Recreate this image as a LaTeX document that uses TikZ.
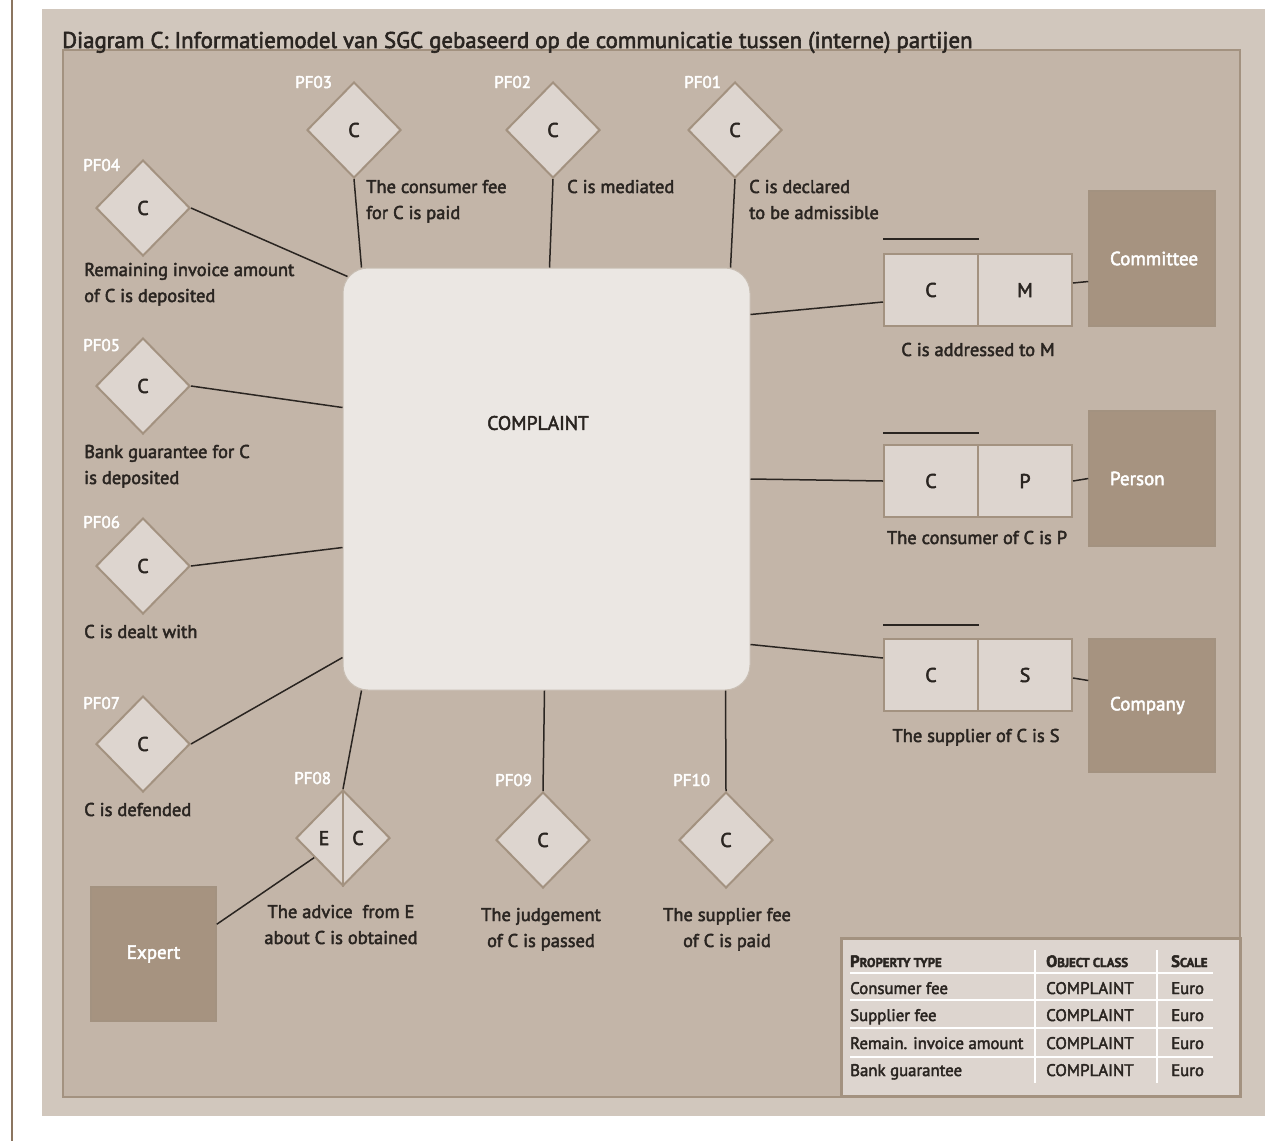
\documentclass[tikz,border=0pt]{standalone}
\usepackage{fontspec}
\setmainfont{PT Sans}[FakeBold=2.5]
\usetikzlibrary{shapes.geometric,calc}
\definecolor{outerpanel}{HTML}{D1C7BD}
\definecolor{framefill}{HTML}{C3B5A8}
\definecolor{framedraw}{HTML}{A39280}
\definecolor{lightfill}{HTML}{DDD5CF}
\definecolor{cpfill}{HTML}{EBE7E3}
\definecolor{entfill}{HTML}{A69380}
\definecolor{txt}{HTML}{2A2521}
\definecolor{leftline}{HTML}{8B7560}
\tikzset{
  dia/.style={diamond, draw=framedraw, fill=lightfill, line width=2, minimum width=94, minimum height=96, inner sep=0, font=\fontsize{20}{20}\selectfont, text=txt},
  pflbl/.style={anchor=base west, inner sep=0, text=white, font=\fontsize{17}{17}\selectfont},
  lbl/.style={anchor=base west, inner sep=0, align=left, text=txt, font=\fontsize{18.5}{26}\selectfont},
  clbl/.style={anchor=base, inner sep=0, align=center, text=txt, font=\fontsize{18.5}{26}\selectfont},
  cell/.style={draw=framedraw, fill=lightfill, line width=2, minimum width=94, minimum height=72, inner sep=0, text=txt, font=\fontsize{20}{20}\selectfont},
  ent/.style={draw=framedraw, fill=entfill, line width=1.5, minimum width=126, inner sep=0, text=white, font=\fontsize{19}{19}\selectfont},
  entl/.style={ent, text width=84, inner xsep=21, align=left},
  conn/.style={draw=txt, line width=1.5},
  over/.style={draw=txt, line width=1.5},
  tcell/.style={anchor=base west, inner sep=0, text=txt, font=\fontsize{16.8}{16.8}\selectfont},
  thead/.style={anchor=base west, inner sep=0, text=txt, font=\fontsize{16.5}{16.5}\selectfont\bfseries},
  sep/.style={draw=white, line width=2.5}
}
\newcommand{\smc}[1]{{\fontsize{12.8}{12.8}\selectfont #1}}
\begin{document}
\begin{tikzpicture}[x=1pt,y=-1pt]
\useasboundingbox (0,0) rectangle (1277,1141);
% background
\draw[leftline, line width=1.5] (12,0) -- (12,1141);
\fill[outerpanel] (42,9) rectangle (1265,1116);
\draw[framedraw, fill=framefill, line width=2.5] (63,50) rectangle (1240,1097);
\node[anchor=base west, inner sep=0, text=txt, font=\fontsize{22.8}{22.8}\selectfont] (title) at (62,48) {Diagram C: Informatiemodel van SGC gebaseerd op de communicatie tussen (interne) partijen};

% complaint
\node[draw=framedraw!60, fill=cpfill, rounded corners=25, minimum width=407, minimum height=422, line width=1] (cp) at (546.5,479) {};
\node[inner sep=0, text=txt, font=\fontsize{19.5}{19.5}\selectfont] (cplbl) at (538,423) {COMPLAINT};

% diamonds
\node[dia] (pf03) at (354,130) {C};
\node[dia] (pf02) at (553,130) {C};
\node[dia] (pf01) at (735,130) {C};
\node[dia] (pf04) at (143,208) {C};
\node[dia] (pf05) at (143,386) {C};
\node[dia] (pf06) at (143,566) {C};
\node[dia] (pf07) at (143,744) {C};
\node[dia] (pf08) at (343,838) {};
\node[dia] (pf09) at (543,840) {C};
\node[dia] (pf10) at (726,840) {C};
\draw[framedraw, line width=2] (pf08.north) -- (pf08.south);
\node[inner sep=0, text=txt, font=\fontsize{20}{20}\selectfont] (pf08e) at (324,838) {E};
\node[inner sep=0, text=txt, font=\fontsize{20}{20}\selectfont] (pf08c) at (358,838) {C};

% PF labels
\node[pflbl] (l03) at (295,88) {PF03};
\node[pflbl] (l02) at (494,88) {PF02};
\node[pflbl] (l01) at (684,88) {PF01};
\node[pflbl] (l04) at (83,171) {PF04};
\node[pflbl] (l05) at (83,351) {PF05};
\node[pflbl] (l06) at (83,528) {PF06};
\node[pflbl] (l07) at (83,709) {PF07};
\node[pflbl] (l08) at (294,784) {PF08};
\node[pflbl] (l09) at (495,786) {PF09};
\node[pflbl] (l10) at (673,786) {PF10};

% fact labels (anchor = baseline of last line)
\node[lbl] (t03) at (366,219) {The consumer fee\\for C is paid};
\node[lbl] (t02) at (567,193) {C is mediated};
\node[lbl] (t01) at (749,219) {C is declared\\to be admissible};
\node[lbl] (t04) at (84,302) {Remaining invoice amount\\of C is deposited};
\node[lbl] (t05) at (84,484) {Bank guarantee for C\\is deposited};
\node[lbl] (t06) at (84,638) {C is dealt with};
\node[lbl] (t07) at (84,816) {C is defended};
\node[clbl] (t08) at (341,944) {The advice\ \ from E\\about C is obtained};
\node[clbl] (t09) at (541,947) {The judgement\\of C is passed};
\node[clbl] (t10) at (727,947) {The supplier fee\\of C is paid};

% relations
\node[cell] (rmc) at (931,290) {C};
\node[cell] (rmm) at (1025,290) {M};
\node[cell] (rpc) at (931,481) {C};
\node[cell] (rpp) at (1025,481) {P};
\node[cell] (rsc) at (931,675) {C};
\node[cell] (rss) at (1025,675) {S};
\draw[over] ($(rmc.north west)+(0,-14)$) -- ($(rmc.north east)+(0,-14)$);
\draw[over] ($(rpc.north west)+(0,-11)$) -- ($(rpc.north east)+(0,-11)$);
\draw[over] ($(rsc.north west)+(0,-13)$) -- ($(rsc.north east)+(0,-13)$);
\node[clbl] (tm) at (978,356) {C is addressed to M};
\node[clbl] (tp) at (977,544) {The consumer of C is P};
\node[clbl] (ts) at (976,742) {The supplier of C is S};

% entities
\node[entl, minimum height=135] (committee) at (1152,258.5) {Committee};
\node[entl, minimum height=135] (person) at (1152,478.5) {Person};
\node[entl, minimum height=133] (company) at (1152,705.5) {Company};
\node[ent, minimum width=125, minimum height=134] (expert) at (153.5,954) {Expert};

% connectors
\draw[conn] (pf03.south) -- ($(cp.north west)+(19,0)$);
\draw[conn] (pf02.south) -- ($(cp.north west)+(207,0)$);
\draw[conn] (pf01.south) -- ($(cp.north west)+(388,0)$);
\draw[conn] (pf04.east) -- ($(cp.north west)+(5,9)$);
\draw[conn] (pf05.east) -- ($(cp.north west)+(0,140)$);
\draw[conn] (pf06.east) -- ($(cp.north west)+(0,280)$);
\draw[conn] (pf07.east) -- ($(cp.north west)+(0,390)$);
\draw[conn] (pf08.north) -- ($(cp.south west)+(19,0)$);
\draw[conn] (pf09.north) -- ($(cp.south west)+(202,0)$);
\draw[conn] (pf10.north) -- ($(cp.south west)+(383,0)$);
\draw[conn] ($(expert.north east)+(0,38)$) -- ($(pf08.west)!0.4!(pf08.south)$);
\draw[conn] ($(cp.north east)+(0,47)$) -- ($(rmc.west)+(0,12)$);
\draw[conn] ($(rmm.east)+(0,-7)$) -- ($(committee.west)+(0,23)$);
\draw[conn] (cp.east) -- (rpc.west);
\draw[conn] (rpp.east) -- (person.west);
\draw[conn] ($(cp.north east)+(0,377)$) -- ($(rsc.west)+(0,-17)$);
\draw[conn] ($(rss.east)+(0,3)$) -- ($(company.west)+(0,-25)$);

% table
\node[draw=framedraw, fill=lightfill, line width=3, minimum width=399, minimum height=158, inner sep=0, anchor=north west] (tbl) at (840,937) {};
\draw[sep] ($(tbl.north west)+(10,36)$) -- ($(tbl.north west)+(373,36)$);
\draw[sep] ($(tbl.north west)+(10,63)$) -- ($(tbl.north west)+(373,63)$);
\draw[sep] ($(tbl.north west)+(10,91)$) -- ($(tbl.north west)+(373,91)$);
\draw[sep] ($(tbl.north west)+(10,120)$) -- ($(tbl.north west)+(373,120)$);
\draw[sep] ($(tbl.north west)+(195,13)$) -- ($(tbl.north west)+(195,146)$);
\draw[sep] ($(tbl.north west)+(317,13)$) -- ($(tbl.north west)+(317,146)$);
\node[thead] (h1) at (850,967) {P\smc{ROPERTY TYPE}};
\node[thead] (h2) at (1046,967) {O\smc{BJECT CLASS}};
\node[thead] (h3) at (1171,967) {S\smc{CALE}};
\node[tcell] (a1) at (850,994) {Consumer fee};
\node[tcell] (a2) at (1046,994) {COMPLAINT};
\node[tcell] (a3) at (1171,994) {Euro};
\node[tcell] (b1) at (850,1021) {Supplier fee};
\node[tcell] (b2) at (1046,1021) {COMPLAINT};
\node[tcell] (b3) at (1171,1021) {Euro};
\node[tcell] (c1) at (850,1049) {Remain. invoice amount};
\node[tcell] (c2) at (1046,1049) {COMPLAINT};
\node[tcell] (c3) at (1171,1049) {Euro};
\node[tcell] (d1) at (850,1076) {Bank guarantee};
\node[tcell] (d2) at (1046,1076) {COMPLAINT};
\node[tcell] (d3) at (1171,1076) {Euro};
\end{tikzpicture}
\end{document}
